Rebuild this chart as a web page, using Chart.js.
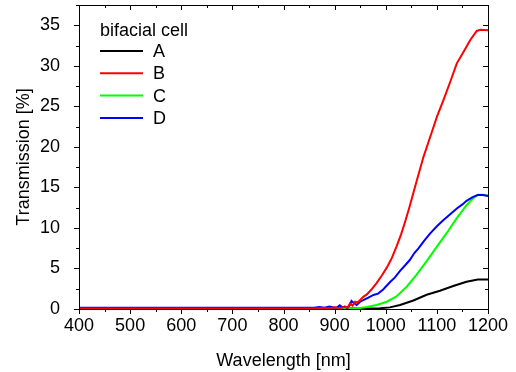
<!DOCTYPE html>
<html>
<head>
<meta charset="utf-8">
<script src="https://cdn.jsdelivr.net/npm/chart.js@4/dist/chart.umd.min.js"></script>
<style>
  html, body { margin: 0; padding: 0; background: #fff; }
  canvas { display: block; }
</style>
</head>
<body>
<canvas id="chart" width="516" height="372"></canvas>
<script>
// sample names and legend title
const legendTitle = 'bifacial cell';
const seriesNames = ['A', 'B', 'C', 'D'];
const seriesColors = ['#000000', '#ff0000', '#00ff00', '#0000ff'];

// tick labels
const xTicks = [400, 500, 600, 700, 800, 900, 1000, 1100, 1200];
const yTicks = [0, 5, 10, 15, 20, 25, 30, 35];

// A (black)
const wlA = [400, 900, 950, 989, 1008, 1028, 1054, 1080, 1106, 1132, 1158, 1180, 1200];
const trA = [0.05, 0.05, 0.05, 0.1, 0.2, 0.49, 1.05, 1.75, 2.25, 2.83, 3.37, 3.65, 3.65];

// B (red)
const wlB = [400, 860, 880, 890, 900, 910, 920, 925, 930, 935, 940, 945, 950, 956, 963, 972, 982, 992, 1002, 1012, 1021, 1030, 1038, 1046, 1054, 1061, 1074, 1090, 1100, 1113, 1126, 1139, 1152, 1165, 1178, 1185, 1200];
const trB = [0.05, 0.05, 0.15, 0.05, 0.2, 0.1, 0.3, 0.1, 0.7, 0.4, 0.9, 0.8, 1.1, 1.5, 1.8, 2.4, 3.2, 4.1, 5.1, 6.3, 7.7, 9.2, 10.8, 12.5, 14.3, 15.9, 18.8, 21.8, 23.7, 25.8, 28.0, 30.3, 31.7, 33.15, 34.3, 34.45, 34.4];

// C (green)
const wlC = [400, 880, 900, 920, 935, 946, 963, 982, 1002, 1021, 1041, 1060, 1080, 1100, 1119, 1139, 1158, 1170, 1180, 1190, 1200];
const trC = [0.1, 0.1, 0.15, 0.1, 0.05, 0.1, 0.25, 0.5, 0.9, 1.55, 2.75, 4.2, 5.9, 7.7, 9.35, 11.2, 12.8, 13.6, 14.1, 14.1, 14.0];

// D (blue)
const wlD = [400, 860, 870, 880, 890, 900, 905, 910, 915, 920, 925, 930, 933, 938, 943, 950, 956, 966, 976, 985, 995, 1008, 1018, 1028, 1038, 1047, 1056, 1064, 1075, 1087, 1100, 1113, 1126, 1139, 1150, 1158, 1170, 1180, 1190, 1200];
const trD = [0.15, 0.15, 0.25, 0.15, 0.3, 0.15, 0.2, 0.45, 0.2, 0.3, 0.15, 0.5, 1.0, 0.7, 0.5, 0.9, 1.1, 1.4, 1.73, 1.9, 2.4, 3.3, 3.9, 4.7, 5.4, 6.04, 6.9, 7.48, 8.4, 9.33, 10.2, 10.97, 11.7, 12.4, 12.9, 13.35, 13.8, 14.05, 14.05, 13.95];

const FONT = 'Arial, "Liberation Sans", sans-serif';

function pts(wl, tr) {
  return wl.map((w, i) => ({ x: w, y: tr[i] }));
}

const allWl = [wlA, wlB, wlC, wlD];
const allTr = [trA, trB, trC, trD];
const drawOrder = [3, 0, 2, 1];

// frame with mirrored ticks (inner on top/right, outer on bottom/left)
const framePlugin = {
  id: 'frame',
  afterDraw(chart) {
    const ctx = chart.ctx;
    const a = chart.chartArea;
    const xs = chart.scales.x;
    const ys = chart.scales.y;
    ctx.save();
    ctx.strokeStyle = '#000';
    ctx.lineWidth = 1;
    ctx.beginPath();
    ctx.rect(a.left + 0.5, a.top + 0.5, a.right - a.left, a.bottom - a.top);
    ctx.stroke();
    ctx.beginPath();
    for (let v = 400; v <= 1200; v += 50) {
      const px = Math.round(xs.getPixelForValue(v)) + 0.5;
      const len = v % 100 === 0 ? 5 : 3;
      ctx.moveTo(px, a.bottom); ctx.lineTo(px, a.bottom + len);
      ctx.moveTo(px, a.top); ctx.lineTo(px, a.top + len);
    }
    for (let v = 0; v <= 37.5; v += 2.5) {
      const py = Math.round(ys.getPixelForValue(v)) + 0.5;
      const len = v % 5 === 0 ? 5 : 3;
      ctx.moveTo(a.left, py); ctx.lineTo(a.left - len, py);
      ctx.moveTo(a.right, py); ctx.lineTo(a.right - len, py);
    }
    ctx.stroke();

    // legend
    ctx.fillStyle = '#000';
    ctx.font = '18px ' + FONT;
    ctx.textBaseline = 'middle';
    ctx.textAlign = 'left';
    ctx.fillText(legendTitle, 100, 31);
    chart.data.datasets.forEach((ds, i) => {
      const y = 51 + i * 22.3;
      ctx.strokeStyle = ds.borderColor;
      ctx.lineWidth = 2;
      ctx.beginPath();
      ctx.moveTo(100, y); ctx.lineTo(143, y);
      ctx.stroke();
      ctx.fillText(ds.label, 153, y + 1);
    });
    ctx.restore();
  }
};

new Chart(document.getElementById('chart'), {
  type: 'line',
  data: {
    datasets: seriesNames.map((name, i) => ({
      label: name,
      data: pts(allWl[i], allTr[i]),
      borderColor: seriesColors[i],
      borderWidth: 2,
      pointRadius: 0,
      tension: 0,
      fill: false,
      order: drawOrder[i]
    }))
  },
  options: {
    responsive: false,
    animation: false,
    events: [],
    layout: { padding: { top: 5, right: 28, left: 0, bottom: 0 } },
    plugins: {
      legend: { display: false },
      tooltip: { enabled: false }
    },
    scales: {
      x: {
        type: 'linear',
        min: 400,
        max: 1200,
        afterBuildTicks: s => { s.ticks = xTicks.map(v => ({ value: v })); },
        afterFit: s => { s.height = 63; s.paddingLeft = 0; s.paddingRight = 0; },
        grid: { display: false, drawTicks: false },
        border: { display: false },
        ticks: {
          color: '#000', padding: 6, maxRotation: 0,
          font: { family: FONT, size: 18 },
          callback: v => String(v)
        },
        title: {
          display: true,
          text: 'Wavelength [nm]',
          color: '#000',
          font: { family: FONT, size: 18 },
          padding: { top: 0, bottom: 0 }
        }
      },
      y: {
        min: 0,
        max: 37.5,
        afterBuildTicks: s => { s.ticks = yTicks.map(v => ({ value: v })); },
        afterFit: s => { s.width = 79; s.paddingTop = 0; s.paddingBottom = 0; },
        grid: { display: false, drawTicks: false },
        border: { display: false },
        ticks: {
          color: '#000', padding: 19,
          font: { family: FONT, size: 18 },
          callback: v => String(v)
        },
        title: {
          display: true,
          text: 'Transmission [%]',
          color: '#000',
          font: { family: FONT, size: 18 },
          padding: { top: 13, bottom: 0 }
        }
      }
    }
  },
  plugins: [framePlugin]
});
</script>
</body>
</html>
